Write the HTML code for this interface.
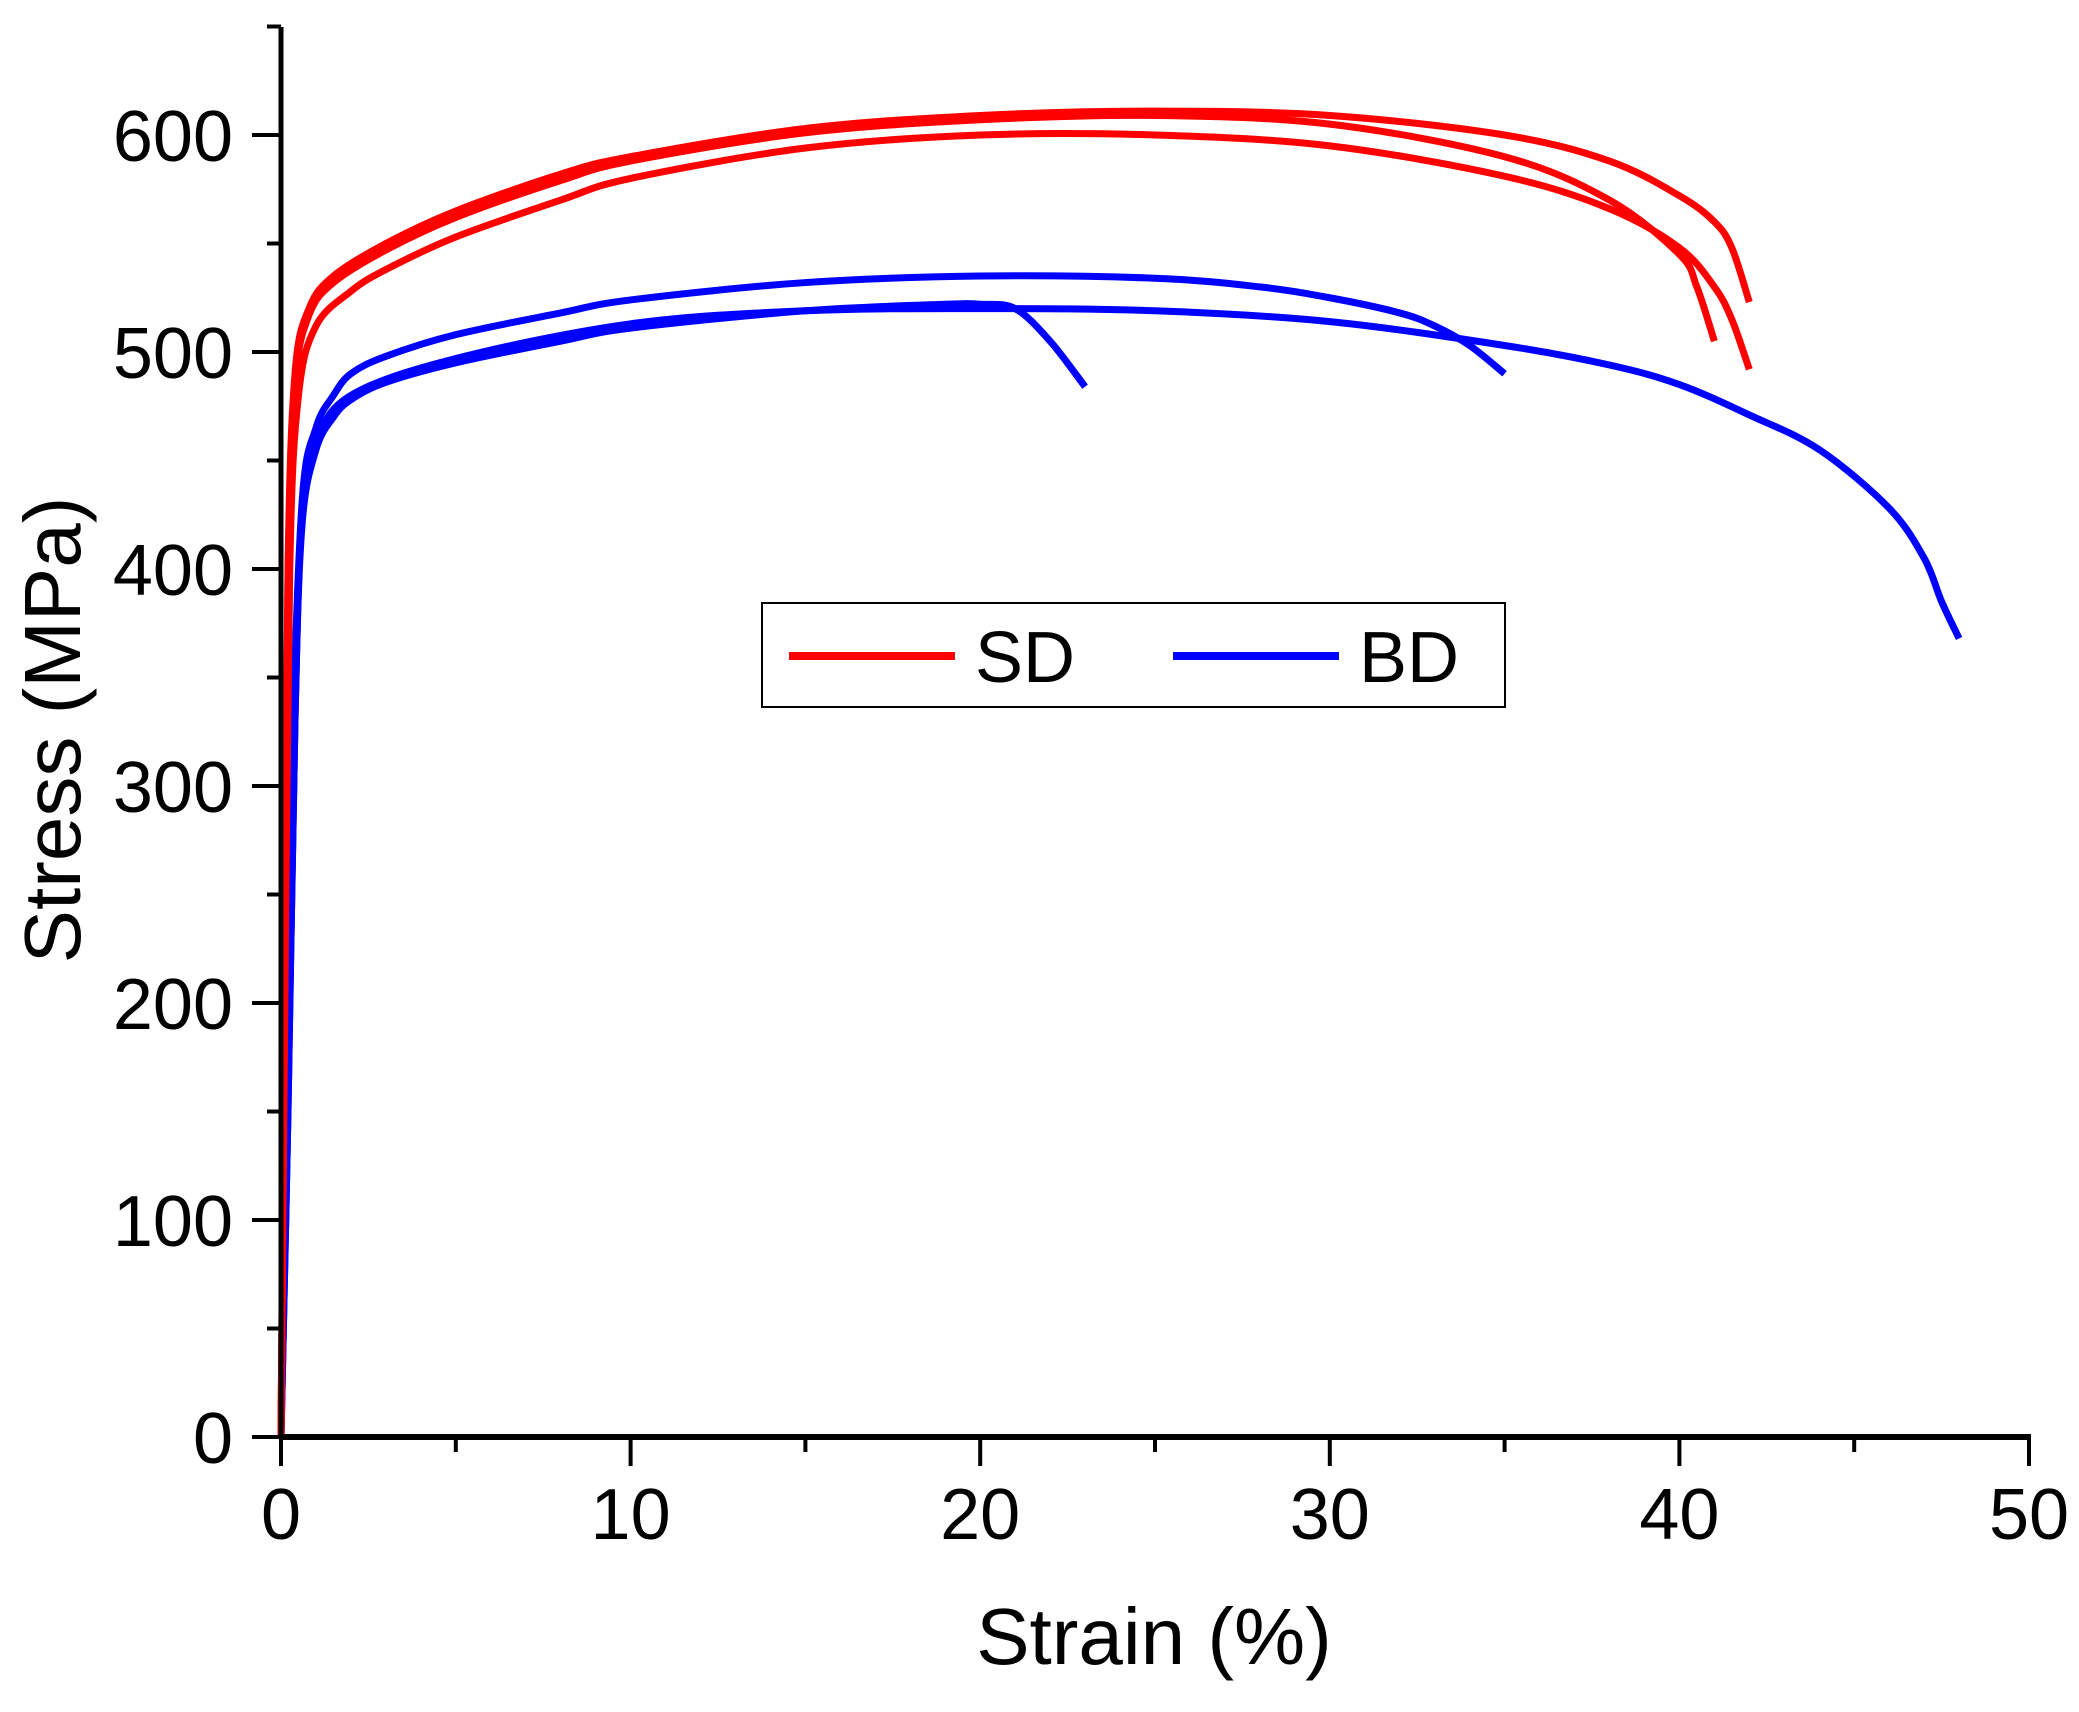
<!DOCTYPE html>
<html><head><meta charset="utf-8"><style>
html,body{margin:0;padding:0;background:#fff;}
svg{display:block;font-family:"Liberation Sans",Arial,sans-serif;}
</style></head><body>
<svg id="chart" width="2079" height="1712" viewBox="0 0 2079 1712" xmlns="http://www.w3.org/2000/svg">
<g id="plot"></g>
<g id="axes"></g>
<text x="1154" y="1664" font-size="80" text-anchor="middle">Strain (%)</text>
<text x="0" y="0" font-size="80" text-anchor="middle" transform="translate(80,730) rotate(-90)">Stress (MPa)</text>
<g>
<rect x="762" y="603" width="743" height="104" fill="#fff" stroke="#000" stroke-width="2"/>
<line x1="789" y1="656" x2="955" y2="656" stroke="#ff0000" stroke-width="8"/>
<text x="975" y="682" font-size="72">SD</text>
<line x1="1173" y1="656" x2="1339" y2="656" stroke="#0000ff" stroke-width="8"/>
<text x="1359" y="682" font-size="72">BD</text>
</g>
</svg>
<script>
const xTicks=[0,10,20,30,40,50];
const yTicks=[0,100,200,300,400,500,600];
const sd1X=[0,0.1,0.2,0.4,0.8,1.5,3,5,8,10,15,20,25,30,35,38,40,41,41.5,42];
const sd1Y=[0,200,400,490,520,535,550,565,582,590,603,609,611,609,600,588,572,560,548,523];
const sd2X=[0,0.1,0.2,0.4,0.8,1.5,3,5,8,10,15,20,25,30,35,38,40,40.5,41];
const sd2Y=[0,200,395,485,517,532,547,562,579,588,601,607,609,605,590,570,545,530,505];
const sd3X=[0,0.1,0.25,0.5,1,2,3,5,8,10,15,20,25,30,35,38,40,41,41.5,42];
const sd3Y=[0,180,400,480,512,528,538,553,570,580,594,600,600,595,581,566,548,530,515,492];
const bdAX=[0,0.15,0.3,0.6,1,1.5,2,3,5,8,10,15,20,25,28,30,32,33,34,35];
const bdAY=[0,150,300,430,465,480,490,498,508,518,524,532,535,534,530,525,518,512,503,490];
const bdBX=[0,0.2,0.4,0.6,1,1.5,2,3,5,8,10,15,19,20,21,22,23];
const bdBY=[0,150,330,420,455,470,478,486,495,505,511,519,522,522,520,505,484];
const bdCX=[0,0.2,0.4,0.6,1,2,5,10,15,20,25,30,35,38,40,42,44,46,47,47.5,48];
const bdCY=[0,150,330,425,458,480,497,513,519,520,519,514,503,494,485,471,455,428,405,385,368];

const X0=281,X1=2029,Y0=1437,PX=217/100;
function sx(v){return X0+(X1-X0)*v/50;}
function sy(v){return Y0-v*PX;}
const NS="http://www.w3.org/2000/svg";
const plot=document.getElementById('plot');
const axes=document.getElementById('axes');
function pathD(xs,ys){
  const p=xs.map((x,i)=>[sx(x),sy(ys[i])]);
  let d="M"+p[0][0]+","+p[0][1];
  for(let i=0;i<p.length-1;i++){
    const a=p[Math.max(i-1,0)],b=p[i],c=p[i+1],e=p[Math.min(i+2,p.length-1)];
    const c1=[b[0]+(c[0]-a[0])/6,b[1]+(c[1]-a[1])/6];
    const c2=[c[0]-(e[0]-b[0])/6,c[1]-(e[1]-b[1])/6];
    d+=" C"+c1[0]+","+c1[1]+" "+c2[0]+","+c2[1]+" "+c[0]+","+c[1];
  }
  return d;
}
function addCurve(xs,ys,color,name){
  const el=document.createElementNS(NS,'path');
  el.setAttribute('d',pathD(xs,ys));
  el.setAttribute('fill','none');
  el.setAttribute('stroke',color);
  el.setAttribute('stroke-width','7');
  el.setAttribute('stroke-linejoin','round');
  
  
  plot.appendChild(el);
}
addCurve(bdAX,bdAY,'#0000ff','bd-curve-1');
addCurve(bdBX,bdBY,'#0000ff','bd-curve-2');
addCurve(bdCX,bdCY,'#0000ff','bd-curve-3');
addCurve(sd1X,sd1Y,'#ff0000','sd-curve-1');
addCurve(sd2X,sd2Y,'#ff0000','sd-curve-2');
addCurve(sd3X,sd3Y,'#ff0000','sd-curve-3');

function line(x1,y1,x2,y2,w,name){
  const l=document.createElementNS(NS,'line');
  l.setAttribute('x1',x1);l.setAttribute('y1',y1);l.setAttribute('x2',x2);l.setAttribute('y2',y2);
  l.setAttribute('stroke','#000');l.setAttribute('stroke-width',w);
  
  
  axes.appendChild(l);
}
function text(x,y,s,anchor,name){
  const t=document.createElementNS(NS,'text');
  t.setAttribute('x',x);t.setAttribute('y',y);t.setAttribute('font-size','72');
  t.setAttribute('text-anchor',anchor);t.textContent=s;
  
  
  axes.appendChild(t);
}
line(X0,27,X0,Y0+2,5,'y-axis-line');
line(X0-2,Y0,X1+2,Y0,6,'x-axis-line');
xTicks.forEach(v=>{line(sx(v),Y0,sx(v),Y0+29,4,'x-tick');text(sx(v),Y0+102,String(v),'middle','x-tick-label');});
xTicks.slice(0,-1).forEach(v=>{line(sx(v+5),Y0,sx(v+5),Y0+15,4,'x-minor-tick');});
yTicks.forEach(v=>{line(X0-29,sy(v),X0,sy(v),4,'y-tick');text(X0-48,sy(v)+26,String(v),'end','y-tick-label');});
yTicks.forEach(v=>{line(X0-14,sy(v+50),X0,sy(v+50),4,'y-minor-tick');});
</script>
</body></html>
